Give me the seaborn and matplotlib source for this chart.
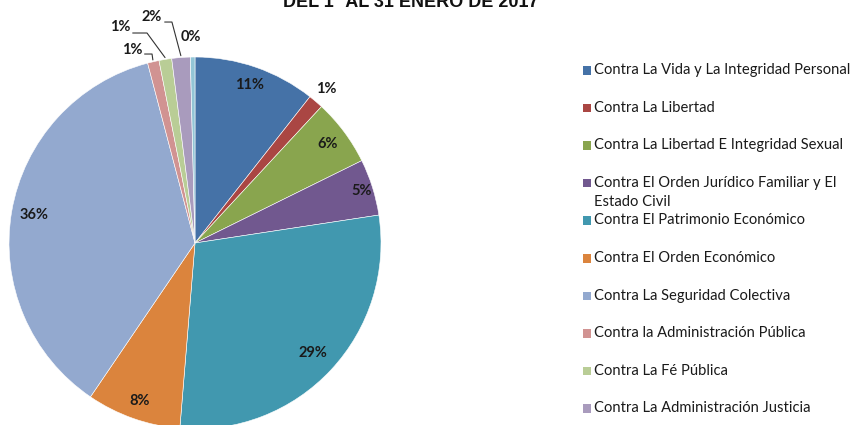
import numpy as np
import seaborn as sns
import matplotlib.pyplot as plt
from matplotlib.patches import Rectangle

categorias = [
    "Contra La Vida y La Integridad Personal",
    "Contra La Libertad",
    "Contra La Libertad E Integridad Sexual",
    "Contra El Orden Jurídico Familiar y El\nEstado Civil",
    "Contra El Patrimonio Económico",
    "Contra El Orden Económico",
    "Contra La Seguridad Colectiva",
    "Contra la Administración Pública",
    "Contra La Fé Pública",
    "Contra La Administración Justicia",
    "Otros",
]
porcentajes = [10.6, 1.3, 5.8, 4.9, 28.7, 8.2, 36.4, 1.0, 1.1, 1.6, 0.4]
colores = ["#4572A7", "#AA4643", "#89A54E", "#71588F", "#4198AF", "#DB843D",
           "#93A9CF", "#D19392", "#B9CD96", "#A99BBD", "#92C5D6"]
titulo = "DEL 1° AL 31 ENERO DE 2017"

sns.set_theme(style="white")
plt.rcParams["font.family"] = ["Lato", "DejaVu Sans"]
palette = sns.color_palette(colores)

W, H = 853, 425
cx, cy, R = 195, 243, 186

fig = plt.figure(figsize=(W / 100, H / 100), dpi=100)
ax = fig.add_axes([0, 0, 1, 1])

wedges, _ = ax.pie(porcentajes, colors=palette, startangle=90, counterclock=False,
                   radius=1, wedgeprops=dict(edgecolor="white", linewidth=0.4))
ax.set_aspect("auto")
ax.set_xlim(-cx / R, (W - cx) / R)
ax.set_ylim(-(H - cy) / R, cy / R)
ax.axis("off")

total = sum(porcentajes)
etiquetas = [f"{round(v / total * 100):d}%" for v in porcentajes]
fs_pct = 10.5

# etiquetas sobre el radio medio de cada porción
radios = [0.90, 1.09, 0.89, 0.94, 0.87, 0.90, 0.88]
for i, r in enumerate(radios):
    w = wedges[i]
    ang = np.deg2rad((w.theta1 + w.theta2) / 2)
    ax.text(r * np.cos(ang), r * np.sin(ang), etiquetas[i], ha="center", va="center",
            fontsize=fs_pct, fontweight="bold", color="#1a1a1a")

# porciones pequeñas con líneas guía (posición de texto y codo en radios)
guias = {
    7: ((-0.339, 1.038), (-0.231, 1.016)),
    8: ((-0.403, 1.161), (-0.258, 1.129)),
    9: ((-0.231, 1.215), (-0.124, 1.188)),
}
for i, ((tx, ty), (ex, ey)) in guias.items():
    w = wedges[i]
    ang = np.deg2rad((w.theta1 + w.theta2) / 2)
    px, py = np.cos(ang) * 1.01, np.sin(ang) * 1.01
    ax.text(tx, ty, etiquetas[i], ha="center", va="center",
            fontsize=fs_pct, fontweight="bold", color="#1a1a1a")
    ax.plot([tx + 0.068, ex, px], [ey, ey, py], color="#333333", lw=0.8)
ax.text(-0.024, 1.107, etiquetas[10], ha="center", va="center",
        fontsize=fs_pct, fontweight="bold", color="#1a1a1a")

# leyenda
for i, nombre in enumerate(categorias[:10]):
    y = 1 - (70 + i * 37.6) / H
    fig.patches.append(Rectangle((583 / W, y - 4.5 / H), 8.5 / W, 8.5 / H,
                                 transform=fig.transFigure, facecolor=palette[i],
                                 edgecolor="none"))
    for k, linea in enumerate(nombre.split("\n")):
        fig.text(594 / W, y - k * 19 / H, linea, ha="left", va="center",
                 fontsize=10.6, color="#1a1a1a")

fig.text(411 / W, 1 - 7 / H, titulo, ha="center", va="baseline", fontsize=13,
         fontweight="bold", family="Liberation Sans", color="#111111")

fig.savefig("out.png", dpi=100)
